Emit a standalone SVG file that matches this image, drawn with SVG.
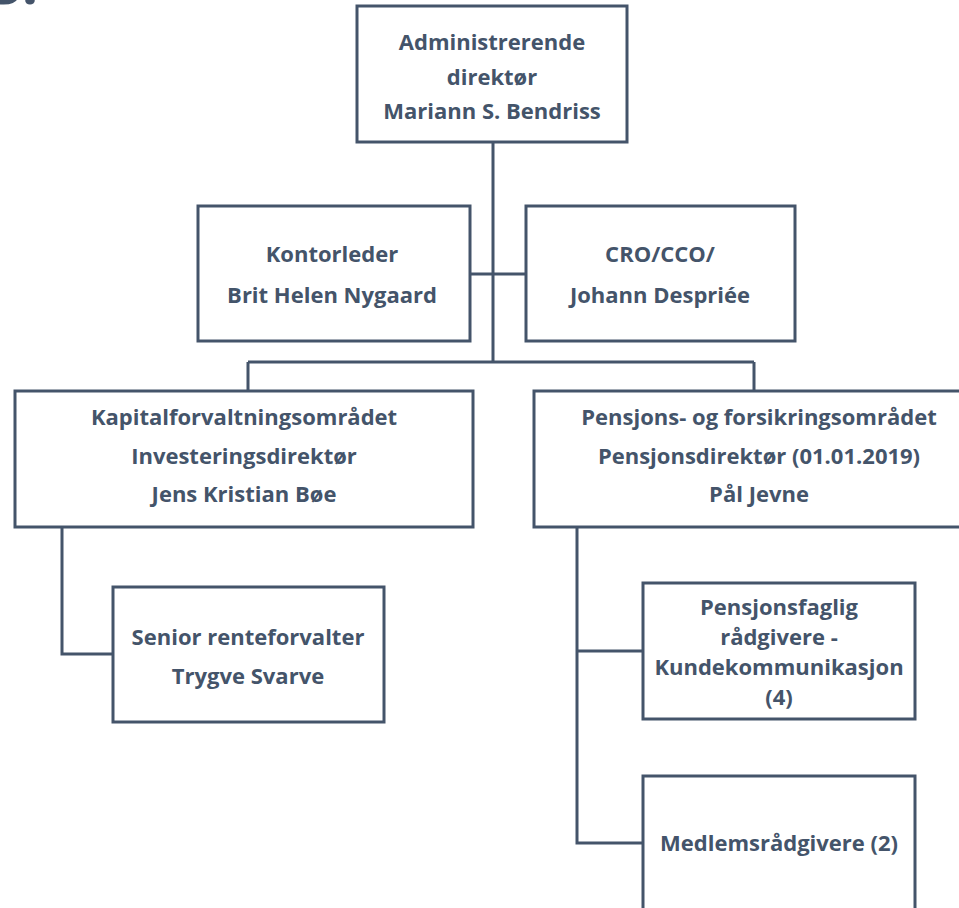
<svg xmlns="http://www.w3.org/2000/svg" width="959" height="908" viewBox="0 0 959 908">
<style>
.box{fill:#fff;stroke:#44546A;stroke-width:3}
.ln{fill:none;stroke:#44546A;stroke-width:3}
text{font-family:"Open Sans","Noto Sans","Liberation Sans",sans-serif;font-weight:bold;font-size:22px;fill:#44546A;text-anchor:middle}
</style>
<rect width="959" height="908" fill="#fff"/>
<text x="-10" y="4" style="font-size:56px;text-anchor:start">3.</text>
<g id="connectors">
<path class="ln" d="M493 142V362M470 274H526M248 362H754M248 362V391M754 362V391"/>
<path class="ln" d="M62 527V654H113"/>
<path class="ln" d="M577 527V843H643M577 651H643"/>
</g>
<g id="n-adm">
<rect class="box" x="357" y="6" width="270" height="136"/>
<text x="492" y="50">Administrerende</text>
<text x="492" y="85">direktør</text>
<text x="492" y="119">Mariann S. Bendriss</text>
</g>
<g id="n-kontor">
<rect class="box" x="198" y="206" width="272" height="135"/>
<text x="332" y="262">Kontorleder</text>
<text x="332" y="303">Brit Helen Nygaard</text>
</g>
<g id="n-cro">
<rect class="box" x="526" y="206" width="269" height="135"/>
<text x="660" y="262">CRO/CCO/</text>
<text x="660" y="303">Johann Despriée</text>
</g>
<g id="n-kapital">
<rect class="box" x="15" y="391" width="458" height="136"/>
<text x="244" y="425">Kapitalforvaltningsområdet</text>
<text x="244" y="464">Investeringsdirektør</text>
<text x="244" y="502">Jens Kristian Bøe</text>
</g>
<g id="n-pensjon">
<rect class="box" x="534" y="391" width="430" height="136"/>
<text x="759" y="425">Pensjons- og forsikringsområdet</text>
<text x="759" y="464">Pensjonsdirektør (01.01.2019)</text>
<text x="759" y="502">Pål Jevne</text>
</g>
<g id="n-senior">
<rect class="box" x="113" y="587" width="271" height="135"/>
<text x="248" y="645">Senior renteforvalter</text>
<text x="248" y="684">Trygve Svarve</text>
</g>
<g id="n-pfaglig">
<rect class="box" x="643" y="583" width="272" height="136"/>
<text x="779" y="615">Pensjonsfaglig</text>
<text x="779" y="645">rådgivere -</text>
<text x="779" y="675">Kundekommunikasjon</text>
<text x="779" y="705">(4)</text>
</g>
<g id="n-medlem">
<rect class="box" x="643" y="776" width="272" height="140"/>
<text x="779" y="851">Medlemsrådgivere (2)</text>
</g>
</svg>
